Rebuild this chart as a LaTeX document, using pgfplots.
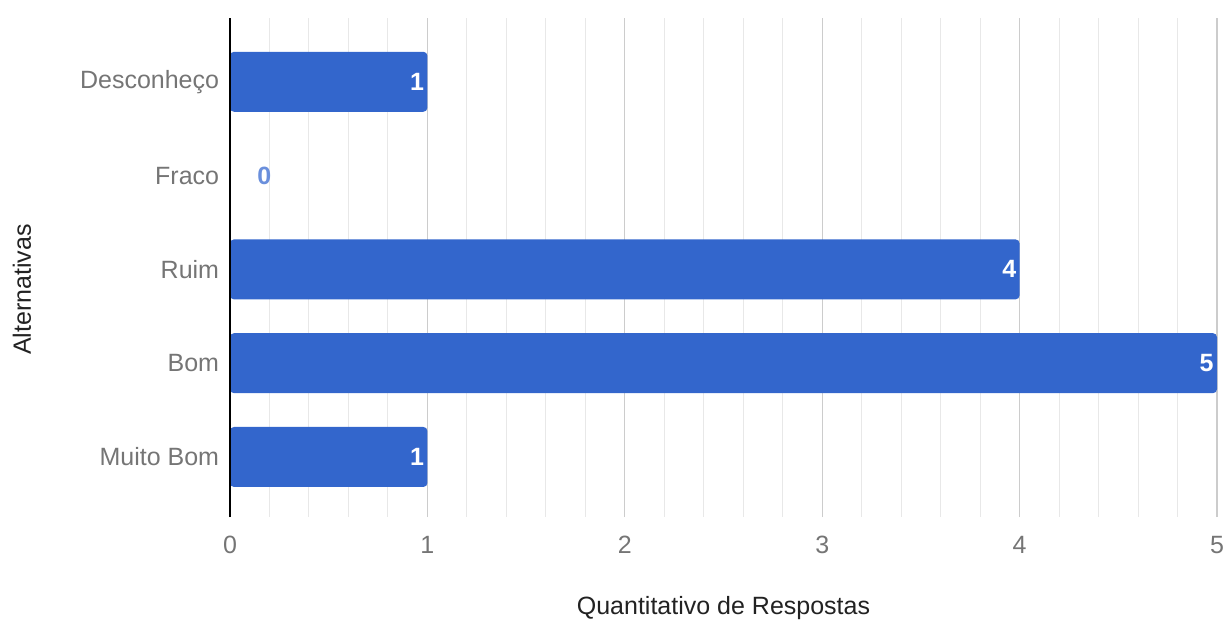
\documentclass[border=0pt]{standalone}
\usepackage{fontspec}
\setmainfont{Liberation Sans}
\usepackage{pgfplots}
\pgfplotsset{compat=1.18}
\definecolor{barblue}{HTML}{3366CC}
\definecolor{lbl}{HTML}{757575}
\definecolor{ttl}{HTML}{222222}
\definecolor{majg}{HTML}{CCCCCC}
\definecolor{ming}{HTML}{E8E8E8}
\definecolor{zerocol}{HTML}{6A8FDC}
\begin{document}
\begin{tikzpicture}
\path[use as bounding box] (0,0) rectangle (614pt,311pt);
\begin{axis}[
  at={(115pt,52.5pt)}, anchor=south west,
  scale only axis, width=493.5pt, height=249.5pt,
  xbar, bar width=30pt, bar shift=0pt,
  xmin=0, xmax=5, ymin=-0.64, ymax=4.68,
  ytick={0,1,2,3,4},
  yticklabels={Muito Bom,Bom,Ruim,Fraco,Desconheço},
  xtick={0,1,2,3,4,5}, minor x tick num=4,
  xmajorgrids, xminorgrids,
  major grid style={majg, line width=0.6pt},
  minor grid style={ming, line width=0.5pt},
  axis line style={draw=none},
  tick style={draw=none},
  /pgf/number format/assume math mode=true,
  tick label style={font=\fontsize{12.5}{15}\selectfont, text=lbl},
  yticklabel style={anchor=east, inner sep=0pt, xshift=-1pt},
  xticklabel style={anchor=center, inner sep=0pt, yshift=-14pt},
  xlabel={Quantitativo de Respostas},
  ylabel={Alternativas},
  label style={font=\fontsize{12.5}{15}\selectfont, text=ttl},
  xlabel style={at={(rel axis cs:0.5,0)}, anchor=center, yshift=-45.5pt},
  ylabel style={at={(rel axis cs:-0.2107,0.456)}, anchor=center},
  clip=false,
]
\addplot[fill=barblue, draw=none, rounded corners=2pt,
  nodes near coords,
  nodes near coords style={anchor=east, text=white, font=\fontsize{12.5}{15}\selectfont\bfseries, inner sep=1.5pt}]
  coordinates {(1,4) (4,2) (5,1) (1,0)};
\addplot[draw=none, fill=none, forget plot,
  nodes near coords,
  nodes near coords style={anchor=west, text=zerocol, font=\fontsize{12.5}{15}\selectfont\bfseries, inner sep=0pt, xshift=13.5pt}]
  coordinates {(0,3)};
\draw[black, line width=0.8pt] (rel axis cs:0,0) -- (rel axis cs:0,1);
\end{axis}
\end{tikzpicture}
\end{document}
